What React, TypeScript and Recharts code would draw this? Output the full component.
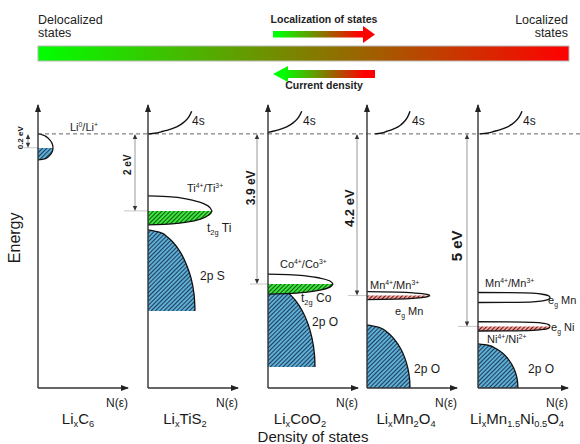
import React from "react";
import { Area, ComposedChart, Line, ReferenceDot, ReferenceLine, XAxis, YAxis } from "recharts";

const FONT = '"Liberation Sans", Arial, Helvetica, sans-serif';

// energy in eV relative to the Li0/Li+ level (negative = below), density N(e) in arbitrary units
const E_MIN = -6.6;
const E_MAX = 0.75;
const N_MAX = 9;

const COMPOUNDS = [
  ["Li", ["x", "sub"], "C", ["6", "sub"]],
  ["Li", ["x", "sub"], "TiS", ["2", "sub"]],
  ["Li", ["x", "sub"], "CoO", ["2", "sub"]],
  ["Li", ["x", "sub"], "Mn", ["2", "sub"], "O", ["4", "sub"]],
  ["Li", ["x", "sub"], "Mn", ["1.5", "sub"], "Ni", ["0.5", "sub"], "O", ["4", "sub"]],
];
const GAP_LABELS = ["0.2 eV", "2 eV", "3.9 eV", "4.2 eV", "5 eV"];
const REDOX_LEVELS = [-0.36, -2, -3.9, -4.2, -5];

// [energy, density]
const C6_EMPTY = [[0, 0], [-0.026, 0.45], [-0.078, 0.85], [-0.156, 1.18], [-0.234, 1.38], [-0.312, 1.48], [-0.364, 1.5]];
const C6_FILLED = [[-0.364, 1.5], [-0.442, 1.45], [-0.519, 1.3], [-0.597, 1.0], [-0.649, 0.65], [-0.675, 0]];

const TIS2_4S = [[0, 0], [0.016, 0.7], [0.068, 1.5], [0.117, 2.2], [0.182, 2.87], [0.247, 3.3], [0.327, 3.7], [0.429, 4.05], [0.587, 4.37]];
const TIS2_TI_EMPTY = [[-1.61, 0], [-1.636, 2.3], [-1.688, 3.8], [-1.766, 5.1], [-1.87, 6.0], [-2.0, 6.4]];
const TIS2_TI_FILLED = [[-2.0, 6.4], [-2.104, 6.1], [-2.208, 5.3], [-2.286, 4.0], [-2.338, 2.4], [-2.364, 0]];
const TIS2_2PS = [[-2.494, 0], [-2.561, 1.2], [-2.693, 2.0], [-2.816, 2.5], [-3.057, 3.2], [-3.429, 3.9], [-3.74, 4.3], [-4.156, 4.6], [-4.597, 4.7]];

const COO2_4S = [[0.039, 0], [0.068, 0.5], [0.117, 1.2], [0.182, 1.87], [0.247, 2.3], [0.327, 2.7], [0.429, 3.05], [0.587, 3.37]];
const COO2_CO_EMPTY = [[-3.64, 0], [-3.653, 2.0], [-3.692, 3.9], [-3.744, 5.2], [-3.822, 6.2], [-3.9, 6.5]];
const COO2_CO_FILLED = [[-3.9, 6.5], [-3.978, 6.2], [-4.056, 5.2], [-4.108, 3.9], [-4.147, 2.0], [-4.16, 0]];
const COO2_2PO = [[-3.922, 0], [-3.992, 1.2], [-4.125, 2.0], [-4.343, 2.8], [-4.631, 3.5], [-4.935, 4.0], [-5.304, 4.4], [-5.74, 4.65], [-6.052, 4.7]];

const MN2O4_4S = [[0, 0.8], [0.016, 1.36], [0.068, 2.0], [0.117, 2.56], [0.182, 3.1], [0.247, 3.44], [0.327, 3.76], [0.429, 4.04], [0.587, 4.3]];
const MN2O4_MN_EMPTY = [[-4.096, 0], [-4.109, 3.0], [-4.135, 4.9], [-4.169, 6.0], [-4.2, 6.3]];
const MN2O4_MN_FILLED = [[-4.2, 6.3], [-4.231, 6.0], [-4.265, 4.9], [-4.291, 3.0], [-4.304, 0]];
const MN2O4_2PO = [[-4.961, 0], [-5.026, 1.2], [-5.148, 2.0], [-5.356, 2.8], [-5.595, 3.4], [-5.831, 3.8], [-6.104, 4.1], [-6.348, 4.25], [-6.6, 4.3]];

const LMNO_4S = [[0, 0.2], [0.016, 0.87], [0.068, 1.64], [0.117, 2.31], [0.182, 2.96], [0.247, 3.37], [0.327, 3.75], [0.429, 4.09], [0.587, 4.4]];
const LMNO_MN = [[-4.12, 0], [-4.125, 3.0], [-4.138, 5.5], [-4.172, 6.6], [-4.211, 7.1], [-4.25, 7.2], [-4.289, 7.1], [-4.328, 6.6], [-4.362, 5.5], [-4.375, 3.0], [-4.38, 0]];
const LMNO_NI_EMPTY = [[-4.88, 0], [-4.885, 3.0], [-4.898, 5.5], [-4.922, 6.6], [-4.961, 7.1], [-5.0, 7.2]];
const LMNO_NI_FILLED = [[-5.0, 7.2], [-5.039, 7.1], [-5.078, 6.6], [-5.102, 5.5], [-5.115, 3.0], [-5.12, 0]];
const LMNO_2PO = [[-5.455, 0], [-5.49, 1.0], [-5.577, 1.8], [-5.704, 2.5], [-5.842, 3.0], [-5.995, 3.4], [-6.164, 3.7], [-6.343, 3.9], [-6.6, 4.0]];

const pts = (arr: number[][]) => arr.map(([e, n]) => ({ e, n }));

type Part = string | [string, "sup" | "sub"];

// layout
const AXES = [38, 148, 268, 367, 478];
const PX_PER_N = 10;

const PANELS = [
  {
    s4: null,
    shapes: [{ data: C6_EMPTY, fill: "white" }, { data: C6_FILLED, fill: "blue" }],
    nameN: 4.0, gapN: -1.0, gapText: [-1.7, -0.1, 8], tickFrom: -1.4,
    labels: [{ n: 3.2, e: 0.08, size: 11, parts: ["Li", ["0", "sup"], "/Li", ["+", "sup"]] }],
  },
  {
    s4: TIS2_4S,
    shapes: [{ data: TIS2_2PS, fill: "blue" }, { data: TIS2_TI_EMPTY, fill: "white" }, { data: TIS2_TI_FILLED, fill: "green" }],
    nameN: 3.7, gapN: -1.3, gapText: [-2.0, -0.8, 10], tickFrom: -2.4,
    labels: [
      { n: 4.4, e: 0.23, size: 12, parts: ["4s"] },
      { n: 3.9, e: -1.52, size: 11, parts: ["Ti", ["4+", "sup"], "/Ti", ["3+", "sup"]] },
      { n: 5.9, e: -2.55, size: 12, parts: ["t", ["2g", "sub"], " Ti"] },
      { n: 5.2, e: -3.79, size: 12, parts: ["2p S"] },
    ],
  },
  {
    s4: COO2_4S,
    shapes: [{ data: COO2_2PO, fill: "blue" }, { data: COO2_CO_EMPTY, fill: "white" }, { data: COO2_CO_FILLED, fill: "green" }],
    nameN: 3.2, gapN: -1.1, gapText: [-1.7, -1.4, 12], tickFrom: -1.8,
    labels: [
      { n: 3.5, e: 0.23, size: 12, parts: ["4s"] },
      { n: 1.2, e: -3.48, size: 11, parts: ["Co", ["4+", "sup"], "/Co", ["3+", "sup"]] },
      { n: 3.3, e: -4.36, size: 12, parts: ["t", ["2g", "sub"], " Co"] },
      { n: 4.4, e: -4.99, size: 12, parts: ["2p O"] },
    ],
  },
  {
    s4: MN2O4_4S,
    shapes: [{ data: MN2O4_2PO, fill: "blue" }, { data: MN2O4_MN_EMPTY, fill: "white" }, { data: MN2O4_MN_FILLED, fill: "red" }],
    nameN: 3.9, gapN: -1.0, gapText: [-1.7, -1.93, 13], tickFrom: -1.9,
    labels: [
      { n: 4.5, e: 0.23, size: 12, parts: ["4s"] },
      { n: 0.3, e: -4.03, size: 11, parts: ["Mn", ["4+", "sup"], "/Mn", ["3+", "sup"]] },
      { n: 2.8, e: -4.7, size: 11, parts: ["e", ["g", "sub"], " Mn"] },
      { n: 4.7, e: -6.2, size: 12, parts: ["2p O"] },
    ],
  },
  {
    s4: LMNO_4S,
    shapes: [{ data: LMNO_2PO, fill: "blue" }, { data: LMNO_MN, fill: "white" }, { data: LMNO_NI_EMPTY, fill: "white" }, { data: LMNO_NI_FILLED, fill: "red" }],
    nameN: 3.9, gapN: -1.1, gapText: [-2.1, -2.91, 15], tickFrom: -2.0,
    labels: [
      { n: 4.5, e: 0.23, size: 12, parts: ["4s"] },
      { n: 0.7, e: -3.97, size: 11, parts: ["Mn", ["4+", "sup"], "/Mn", ["3+", "sup"]] },
      { n: 7.0, e: -4.42, size: 11, parts: ["e", ["g", "sub"], " Mn"] },
      { n: 7.3, e: -5.12, size: 11, parts: ["e", ["g", "sub"], " Ni"] },
      { n: 0.9, e: -5.43, size: 11, parts: ["Ni", ["4+", "sup"], "/Ni", ["2+", "sup"]] },
      { n: 5.0, e: -6.2, size: 12, parts: ["2p O"] },
    ],
  },
];

function RichText({ x, y, parts, size, anchor = "start", bold = false, rotate = 0, subShift = 0.25 }: any) {
  let shift = 0;
  const spans = (parts as Part[]).map((p, i) => {
    const [txt, kind] = typeof p === "string" ? [p, null] : p;
    const target = kind === "sup" ? -size * 0.38 : kind === "sub" ? size * subShift : 0;
    const dy = target - shift;
    shift = target;
    return (
      <tspan key={i} dy={dy || undefined} fontSize={kind ? size * 0.62 : size}>
        {txt}
      </tspan>
    );
  });
  return (
    <text
      x={x}
      y={y}
      fontSize={size}
      textAnchor={anchor}
      fontWeight={bold ? "bold" : "normal"}
      fontFamily={FONT}
      fill="#1a1a1a"
      transform={rotate ? `rotate(${rotate} ${x} ${y})` : undefined}
    >
      {spans}
    </text>
  );
}

const GapArrow = (p: any) => {
  const x = p.x1;
  const top = Math.min(p.y1, p.y2);
  const bot = Math.max(p.y1, p.y2);
  return (
    <g>
      <line x1={x} y1={top + 3} x2={x} y2={bot - 3} stroke="#9a9a9a" strokeWidth={1} />
      <polygon points={`${x},${top} ${x - 2.2},${top + 5} ${x + 2.2},${top + 5}`} fill="#333" />
      <polygon points={`${x},${bot} ${x - 2.2},${bot - 5} ${x + 2.2},${bot - 5}`} fill="#333" />
    </g>
  );
};

function Panel({ cfg, idx }: any) {
  const fills: any = { white: "#ffffff", blue: `url(#blue${idx})`, green: `url(#green${idx})`, red: `url(#red${idx})` };
  const axis = AXES[idx];
  const dashEnd = ((AXES[idx + 1] ?? 580) - axis) / PX_PER_N;
  const level = REDOX_LEVELS[idx];
  const [gtN, gtE, gtSize] = cfg.gapText;
  return (
    <div style={{ position: "absolute", left: axis - 32, top: 95 }}>
      <ComposedChart layout="vertical" width={154} height={349} margin={{ top: 10, right: 32, bottom: 0, left: 2 }}>
        <defs>
          <pattern id={`blue${idx}`} patternUnits="userSpaceOnUse" width={3} height={3} patternTransform="rotate(45)">
            <rect width={3} height={3} fill="#5fb2d6" />
            <line x1={0.5} y1={0} x2={0.5} y2={3} stroke="#1f3b5e" strokeWidth={1.1} />
          </pattern>
          <pattern id={`green${idx}`} patternUnits="userSpaceOnUse" width={3} height={3} patternTransform="rotate(45)">
            <rect width={3} height={3} fill="#3fe63f" />
            <line x1={0.5} y1={0} x2={0.5} y2={3} stroke="#0c5a0c" strokeWidth={1.1} />
          </pattern>
          <pattern id={`red${idx}`} patternUnits="userSpaceOnUse" width={3} height={3} patternTransform="rotate(45)">
            <rect width={3} height={3} fill="#f0a4a0" />
            <line x1={0.5} y1={0} x2={0.5} y2={3} stroke="#6b1616" strokeWidth={1.1} />
          </pattern>
        </defs>
        <XAxis type="number" domain={[0, N_MAX]} allowDataOverflow tick={false} tickLine={false} height={56} axisLine={{ stroke: "#333", strokeWidth: 1.4 }} />
        <YAxis type="number" dataKey="e" domain={[E_MIN, E_MAX]} reversed allowDataOverflow tick={false} tickLine={false} width={30} axisLine={{ stroke: "#333", strokeWidth: 1.4 }} />
        <ReferenceLine segment={[{ x: 0, y: 0 }, { x: dashEnd, y: 0 }]} ifOverflow="visible" stroke="#666" strokeDasharray="4 3" />
        <ReferenceLine segment={[{ x: cfg.tickFrom, y: level }, { x: 0, y: level }]} ifOverflow="visible" stroke="#c8c8c8" />
        <ReferenceLine segment={[{ x: cfg.gapN, y: 0 }, { x: cfg.gapN, y: level }]} ifOverflow="visible" shape={GapArrow} />
        {cfg.shapes.map((s: any, i: number) => (
          <Area
            key={i}
            data={pts(s.data)}
            dataKey="n"
            type="monotone"
            fill={fills[s.fill]}
            fillOpacity={1}
            stroke="#111"
            strokeWidth={1.3}
            baseValue={0}
            isAnimationActive={false}
          />
        ))}
        {cfg.s4 && (
          <Line data={pts(cfg.s4)} dataKey="n" type="monotone" stroke="#111" strokeWidth={1.4} dot={false} isAnimationActive={false} />
        )}
        <ReferenceDot
          x={gtN}
          y={gtE}
          ifOverflow="visible"
          shape={(p: any) => (
            <text x={p.cx} y={p.cy} transform={`rotate(-90 ${p.cx} ${p.cy})`} textAnchor="middle" dominantBaseline="central" fontSize={gtSize} fontWeight="bold" fontFamily={FONT} fill="#1a1a1a">
              {GAP_LABELS[idx]}
            </text>
          )}
        />
        {cfg.labels.map((l: any, i: number) => (
          <ReferenceDot key={i} x={l.n} y={l.e} ifOverflow="visible" shape={(p: any) => <RichText x={p.cx} y={p.cy} parts={l.parts} size={l.size} />} />
        ))}
        <ReferenceDot x={0} y={E_MAX} ifOverflow="visible" shape={(p: any) => <polygon points={`${p.cx},${p.cy - 1} ${p.cx - 3},${p.cy + 7} ${p.cx + 3},${p.cy + 7}`} fill="#222" />} />
        <ReferenceDot x={N_MAX} y={E_MIN} ifOverflow="visible" shape={(p: any) => <polygon points={`${p.cx + 1},${p.cy} ${p.cx - 7},${p.cy - 3} ${p.cx - 7},${p.cy + 3}`} fill="#222" />} />
        <ReferenceDot x={N_MAX} y={E_MIN} ifOverflow="visible" shape={(p: any) => <RichText x={p.cx} y={p.cy + 19} parts={["N(ε)"]} size={12} anchor="end" />} />
        <ReferenceDot x={cfg.nameN} y={E_MIN} ifOverflow="visible" shape={(p: any) => <RichText x={p.cx} y={p.cy + 36} parts={COMPOUNDS[idx]} size={15} anchor="middle" subShift={0.18} />} />
        {idx === 0 && (
          <ReferenceDot x={0} y={-2.7} ifOverflow="visible" shape={(p: any) => <RichText x={p.cx - 18} y={p.cy} parts={["Energy"]} size={16} anchor="middle" rotate={-90} />} />
        )}
        {idx === 2 && (
          <ReferenceDot x={0} y={E_MIN} ifOverflow="visible" shape={(p: any) => <RichText x={p.cx + 45} y={p.cy + 54} parts={["Density of states"]} size={15} anchor="middle" />} />
        )}
      </ComposedChart>
    </div>
  );
}

function Header() {
  return (
    <svg width={580} height={95} style={{ position: "absolute", left: 0, top: 0 }} fontFamily={FONT}>
      <defs>
        <linearGradient id="barGrad" x1="0" x2="1" y1="0" y2="0">
          <stop offset="0" stopColor="#00ff00" />
          <stop offset="1" stopColor="#ff0000" />
        </linearGradient>
        <linearGradient id="upGrad" gradientUnits="userSpaceOnUse" x1="273" x2="375" y1="0" y2="0">
          <stop offset="0.05" stopColor="#00ff00" />
          <stop offset="0.85" stopColor="#ff0000" />
        </linearGradient>
        <linearGradient id="downGrad" gradientUnits="userSpaceOnUse" x1="273" x2="375" y1="0" y2="0">
          <stop offset="0.1" stopColor="#00ff00" />
          <stop offset="0.9" stopColor="#ff0000" />
        </linearGradient>
      </defs>
      <text x={38} y={24} fontSize={12.5} fill="#222">Delocalized</text>
      <text x={38} y={37} fontSize={12.5} fill="#222">states</text>
      <text x={568} y={24} fontSize={12.5} fill="#222" textAnchor="end">Localized</text>
      <text x={568} y={37} fontSize={12.5} fill="#222" textAnchor="end">states</text>
      <text x={324} y={23} fontSize={10.5} fontWeight="bold" fill="#222" textAnchor="middle">Localization of states</text>
      <text x={324} y={89} fontSize={10.5} fontWeight="bold" fill="#222" textAnchor="middle">Current density</text>
      <rect x={38} y={46} width={531} height={15} fill="url(#barGrad)" stroke="#b8b8b8" strokeWidth={1} />
      <polygon points="273,31 363,31 363,26 375,34.5 363,43 363,37.5 273,37.5" fill="url(#upGrad)" />
      <polygon points="375,70 288,70 288,66 273,74 288,82 288,78 375,78" fill="url(#downGrad)" />
    </svg>
  );
}

export default function App() {
  return (
    <div style={{ position: "absolute", left: 0, top: 0, width: 580, height: 444, overflow: "hidden", background: "#fff" }}>
      <Header />
      {PANELS.map((p, i) => (
        <Panel key={i} cfg={p} idx={i} />
      ))}
    </div>
  );
}
